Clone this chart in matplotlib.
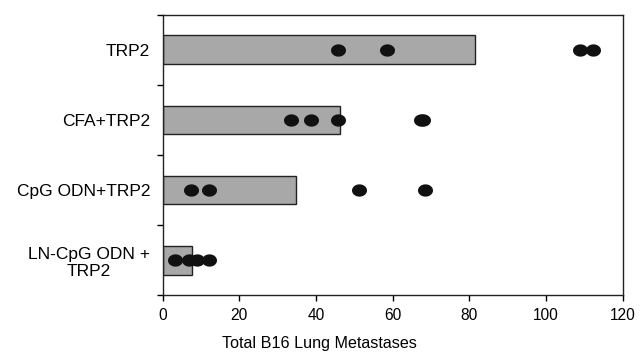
import matplotlib
matplotlib.use("Agg")
import matplotlib.pyplot as plt
import numpy as np
from matplotlib.path import Path

plt.rcParams['font.family'] = ['Liberation Sans', 'DejaVu Sans']

categories = ["TRP2", "CFA+TRP2", "CpG ODN+TRP2", "LN-CpG ODN +\nTRP2"]
bar_values = [81.5, 46.3, 34.9, 7.7]
dots_trp2 = [45.6, 58.5, 108.9, 112.2]
dots_cfa = [33.6, 38.6, 45.6, 67.4, 68.0]
dots_cpg = [7.3, 12.2, 51.3, 68.5]
dots_ln = [3.2, 6.9, 8.9, 12.2]
dot_groups = [dots_trp2, dots_cfa, dots_cpg, dots_ln]
x_ticks = [0, 20, 40, 60, 80, 100, 120]
x_label = "Total B16 Lung Metastases"

fig = plt.figure(figsize=(6.4, 3.53), dpi=100)
ax = fig.add_axes([0.2542, 0.1635, 0.7188, 0.7949])

ypos = np.arange(len(categories))
ax.barh(ypos, bar_values, height=0.41, color='#a8a8a8', edgecolor='#222222', linewidth=1.0, zorder=2)

t = np.linspace(0, 2 * np.pi, 60)
ell = Path(np.column_stack([np.cos(t), 0.82 * np.sin(t)]), closed=True)
for y, vals in zip(ypos, dot_groups):
    ax.plot(vals, [y] * len(vals), linestyle='none', marker=ell, markersize=10.8,
            color='#111111', markeredgewidth=0, zorder=3)

ax.set_xlim(0, 120)
ax.set_ylim(3.5, -0.5)
ax.set_xticks(x_ticks)
ax.set_xticklabels([str(v) for v in x_ticks], fontsize=11.2)
ax.set_yticks(np.arange(-0.5, 4, 1.0))
ax.set_yticklabels([])
ax.set_yticks(ypos, minor=True)
ax.set_yticklabels(categories, minor=True)
ax.tick_params(axis='y', which='major', length=4, width=1, direction='out')
ax.tick_params(axis='x', which='major', length=4, width=1, direction='out', pad=5)
ax.tick_params(axis='y', which='minor', length=0, pad=9)
for lbl in ax.get_yticklabels(minor=True):
    lbl.set_horizontalalignment('right')
    lbl.set_multialignment('center')
    lbl.set_fontsize(12.5)
    lbl.set_linespacing(1.15)
for s in ax.spines.values():
    s.set_linewidth(1.0)
    s.set_color('#222222')
ax.set_xlabel(x_label, fontsize=11.6)
ax.xaxis.set_label_coords(0.341, -0.145)

fig.savefig("out.png", dpi=100)
